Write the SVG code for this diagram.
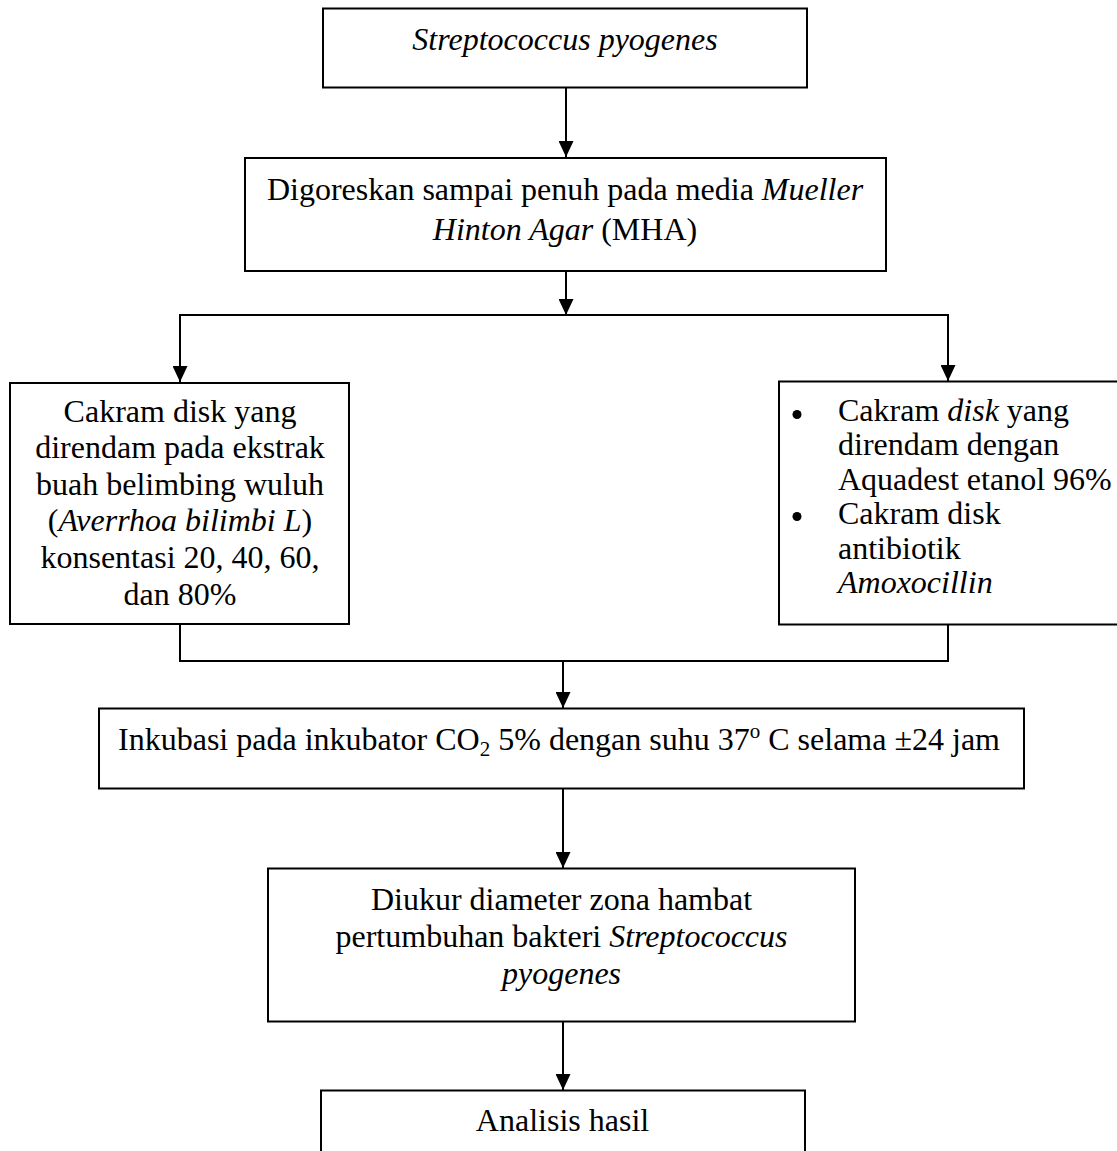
<svg xmlns="http://www.w3.org/2000/svg" width="1117" height="1151" viewBox="0 0 1117 1151">
<style>
  .box { fill: #ffffff; stroke: #000000; stroke-width: 2; }
  .t { font-family: "Liberation Serif", "Times New Roman", serif; font-size: 32px; fill: #000000; }
  .c { text-anchor: middle; }
  .i { font-style: italic; }
  .ln { fill: none; stroke: #000000; stroke-width: 2; }
</style>
<defs>
  <marker id="ah" markerUnits="userSpaceOnUse" markerWidth="15" markerHeight="16" viewBox="0 0 15 16" refX="7.5" refY="16" orient="auto-start-reverse">
    <path d="M0,0 L15,0 L7.5,16 Z" fill="#000000" transform="rotate(0)"/>
  </marker>
  <marker id="ad" markerUnits="userSpaceOnUse" markerWidth="16" markerHeight="15" viewBox="0 0 16 15" refX="16" refY="7.5" orient="auto">
    <path d="M0,0 L16,7.5 L0,15 Z" fill="#000000"/>
  </marker>
</defs>

<g id="connectors">
  <line class="ln" x1="566" y1="88" x2="566" y2="157" marker-end="url(#ad)"/>
  <line class="ln" x1="566" y1="271" x2="566" y2="315" marker-end="url(#ad)"/>
  <polyline class="ln" points="180,382 180,315 948,315 948,381"/>
  <line class="ln" x1="180" y1="315" x2="180" y2="382" marker-end="url(#ad)"/>
  <line class="ln" x1="948" y1="315" x2="948" y2="381" marker-end="url(#ad)"/>
  <polyline class="ln" points="180,624 180,661 948,661 948,624"/>
  <line class="ln" x1="563" y1="661" x2="563" y2="708" marker-end="url(#ad)"/>
  <line class="ln" x1="563" y1="789" x2="563" y2="868" marker-end="url(#ad)"/>
  <line class="ln" x1="563" y1="1022" x2="563" y2="1090" marker-end="url(#ad)"/>
</g>

<g id="node-start">
  <rect class="box" x="323" y="8.5" width="484" height="79"/>
  <text class="t c i" x="565" y="50">Streptococcus pyogenes</text>
</g>

<g id="node-streak">
  <rect class="box" x="245" y="158" width="641" height="113"/>
  <text class="t c" x="565" y="199.5">Digoreskan sampai penuh pada media <tspan class="i">Mueller</tspan></text>
  <text class="t c" x="565" y="239.5"><tspan class="i">Hinton Agar</tspan> (MHA)</text>
</g>

<g id="node-extract">
  <rect class="box" x="10" y="383" width="339" height="241"/>
  <text class="t c" x="180" y="421.5">Cakram disk yang</text>
  <text class="t c" x="180" y="458">direndam pada ekstrak</text>
  <text class="t c" x="180" y="494.5">buah belimbing wuluh</text>
  <text class="t c" x="180" y="531">(<tspan class="i">Averrhoa bilimbi L</tspan>)</text>
  <text class="t c" x="180" y="568">konsentasi 20, 40, 60,</text>
  <text class="t c" x="180" y="604.5">dan 80%</text>
</g>

<g id="node-control">
  <rect class="box" x="779" y="381.5" width="345" height="243"/>
  <circle cx="797" cy="414.5" r="4.5" fill="#000000"/>
  <circle cx="797" cy="516.5" r="4.5" fill="#000000"/>
  <text class="t" x="838" y="420.5">Cakram <tspan class="i">disk</tspan> yang</text>
  <text class="t" x="838" y="455">direndam dengan</text>
  <text class="t" x="838" y="489.5">Aquadest etanol 96%</text>
  <text class="t" x="838" y="524">Cakram disk</text>
  <text class="t" x="838" y="558.5">antibiotik</text>
  <text class="t i" x="838" y="593">Amoxocillin</text>
</g>

<g id="node-incubate">
  <rect class="box" x="99" y="708.5" width="925" height="80"/>
  <text class="t c" x="559" y="749.5">Inkubasi pada inkubator CO<tspan font-size="21" dy="6">2</tspan><tspan dy="-6"> 5% dengan suhu 37</tspan><tspan font-size="21" dy="-12">o</tspan><tspan dy="12"> C selama ±24 jam</tspan></text>
</g>

<g id="node-measure">
  <rect class="box" x="268" y="868.5" width="587" height="153"/>
  <text class="t c" x="561.5" y="909.5">Diukur diameter zona hambat</text>
  <text class="t c" x="561.5" y="947">pertumbuhan bakteri <tspan class="i">Streptococcus</tspan></text>
  <text class="t c i" x="561.5" y="984">pyogenes</text>
</g>

<g id="node-analysis">
  <rect class="box" x="321" y="1090.5" width="484" height="90"/>
  <text class="t c" x="562.5" y="1131">Analisis hasil</text>
</g>
</svg>
